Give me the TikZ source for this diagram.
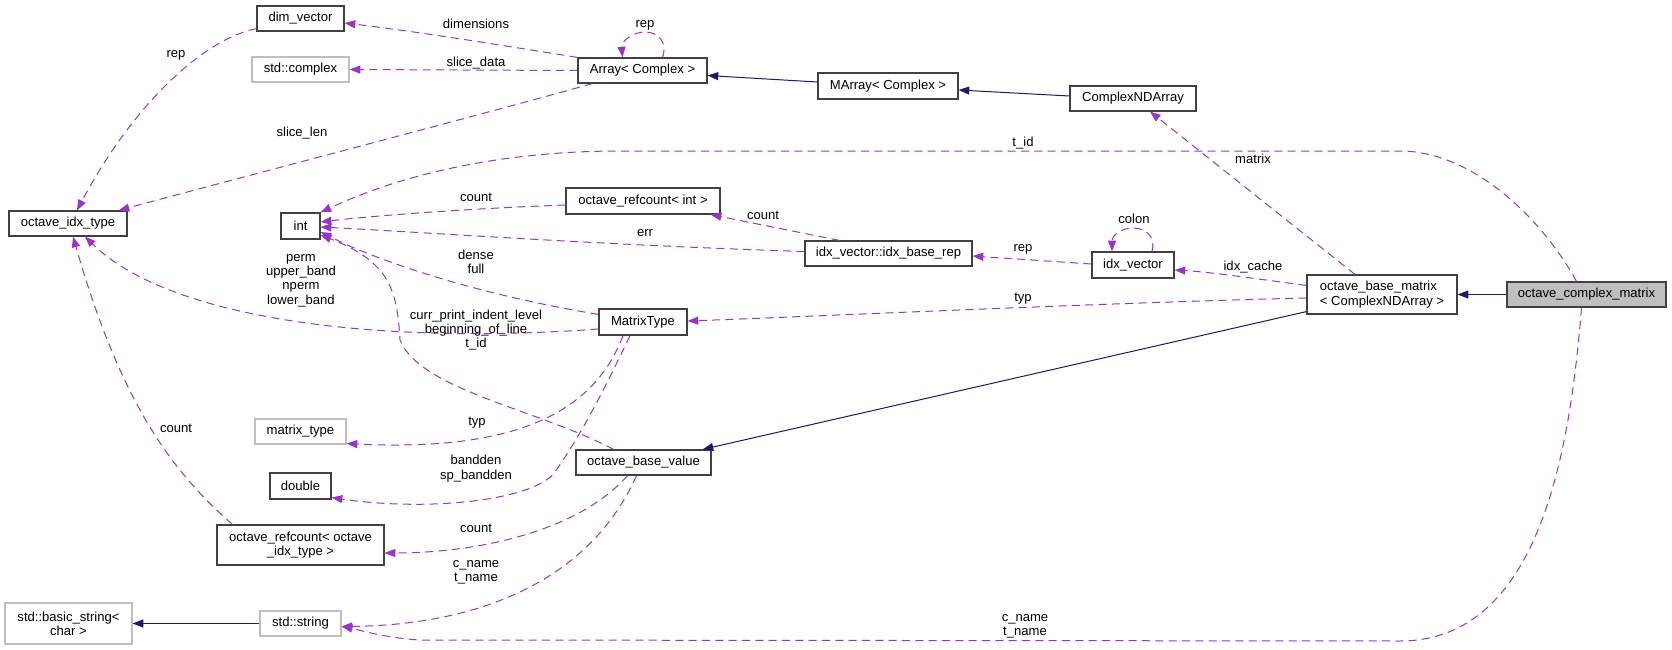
\documentclass[tikz,border=0pt]{standalone}
\usepackage{fontspec}
\setmainfont{Liberation Sans}
\usetikzlibrary{arrows.meta,calc}
\definecolor{purp}{HTML}{9A32CD}
\definecolor{navyc}{HTML}{191970}
\definecolor{boxc}{HTML}{404040}
\definecolor{grayc}{HTML}{BFBFBF}
\begin{document}
\begin{tikzpicture}[x=0.75pt,y=-0.75pt,
  font=\fontsize{9.8}{10.7}\selectfont,
  sz/.style 2 args={minimum width=#1*0.75pt, minimum height=#2*0.75pt},
  box/.style={draw=boxc, line width=0.9pt, fill=white, inner sep=0pt, align=center},
  gbox/.style={box, draw=grayc},
  uses/.style={draw=purp, line width=0.75pt, dash pattern=on 6pt off 4pt, -{Triangle[length=8pt,width=6pt]}},
  inh/.style={draw=navyc, line width=0.75pt, -{Triangle[length=8pt,width=6pt]}},
  lab/.style={inner sep=0pt, align=center, text=black}
]
\useasboundingbox (0,0) rectangle (1672,650);

% nodes
\node[box, sz={87}{25}] (dimv) at (300.5,18.5) {dim\_vector};
\node[gbox, sz={97}{25}] (stdc) at (300.5,69.5) {std::complex};
\node[box, sz={129}{25}] (arr) at (642.5,70.5) {Array< Complex >};
\node[box, sz={140}{26}] (marr) at (888,86) {MArray< Complex >};
\node[box, sz={126}{25}] (cnd) at (1133,98.5) {ComplexNDArray};
\node[box, sz={118}{25}] (oit) at (68,223.5) {octave\_idx\_type};
\node[box, sz={39}{26}] (int) at (300.5,226) {int};
\node[box, sz={154}{26}] (rci) at (643,201) {octave\_refcount< int >};
\node[box, sz={167}{25}] (ibr) at (888.5,253.5) {idx\_vector::idx\_base\_rep};
\node[box, sz={82}{26}] (iv) at (1133,265) {idx\_vector};
\node[box, sz={150}{39}, align=left] (obm) at (1382,294.5) {octave\_base\_matrix\\< ComplexNDArray >};
\node[box, sz={159}{25}, fill=grayc] (ocm) at (1586.5,294.5) {octave\_complex\_matrix};
\node[box, sz={88}{26}] (mt) at (643,322) {MatrixType};
\node[gbox, sz={91}{25}] (mtt) at (300.5,431.5) {matrix\_type};
\node[box, sz={135}{25}] (obv) at (643.5,462.5) {octave\_base\_value};
\node[box, sz={61}{26}] (dbl) at (300.5,486) {double};
\node[box, sz={167}{40}] (rco) at (300.5,545) {octave\_refcount< octave\\\_idx\_type >};
\node[gbox, sz={127}{41}] (bstr) at (68.5,623.5) {std::basic\_string<\\char >};
\node[gbox, sz={81}{25}] (str) at (300.5,623.5) {std::string};

% inheritance
\draw[inh] ($(marr.west)+(0,-4)$) -- ($(arr.east)+(0,5)$);
\draw[inh] ($(cnd.west)+(0,-2.5)$) -- ($(marr.east)+(0,4)$);
\draw[inh] (ocm.west) -- (obm.east);
\draw[inh] ($(obm.south west)+(0,-3)$) -- ($(obv.north east)+(-9,0)$);
\draw[inh] (str.west) -- (bstr.east);

% usage edges
\draw[uses] (arr.north west) .. controls (500,45) and (420,32) .. ($(dimv.east)+(0,4.5)$);
\node[lab] (l1) at (476,24) {dimensions};
\draw[uses] (arr.west) -- (stdc.east);
\node[lab] (l2) at (476,63) {slice\_data};
\draw[uses] ($(arr.north)+(20,0)$) .. controls (668,42) and (658,32) .. (645,32) .. controls (632,32) and (621,42) .. ($(arr.north)+(-20,0)$);
\node[lab] (l3) at (645,25) {rep};
\draw[uses] ($(arr.south west)+(15,0)$) .. controls (480,115) and (250,175) .. ($(oit.north east)+(-9,0)$);
\node[lab] (l4) at (302,133) {slice\_len};
\draw[uses] ($(dimv.south west)+(0,-3)$) .. controls (200,40) and (130,110) .. ($(oit.north)+(9,0)$);
\node[lab] (l5) at (176,55) {rep};

\draw[uses] ($(obm.north)+(-27,0)$) -- ($(cnd.south)+(17,0)$);
\node[lab] (l6) at (1253,159) {matrix};

\draw[uses] ($(ocm.north)+(-10,0)$) .. controls (1540,215) and (1470,151) .. (1400,151) -- (620,151) .. controls (500,151) and (400,175) .. (int.north east);
\node[lab] (l7) at (1023,143) {t\_id};

\draw[uses] ($(ocm.south)+(-5,0)$) .. controls (1570,450) and (1540,641) .. (1400,641) -- (420,640) .. controls (385,638) and (360,630) .. ($(str.east)+(0,3)$);
\node[lab] (l8) at (1025,626) {c\_name\\t\_name};

\draw[uses] ($(rci.west)+(0,4)$) .. controls (480,208) and (380,215) .. ($(int.east)+(0,-4)$);
\node[lab] (l9) at (476,197) {count};
\draw[uses] ($(ibr.north west)+(35,0)$) -- ($(rci.south east)+(-10,0)$);
\node[lab] (l10) at (763,215) {count};
\draw[uses] ($(ibr.west)+(0,-2)$) .. controls (600,245) and (420,232) .. ($(int.east)+(0,1)$);
\node[lab] (l11) at (645,233) {err};
\draw[uses] ($(iv.west)+(0,-1)$) -- ($(ibr.east)+(0,2.5)$);
\node[lab] (l12) at (1023,249) {rep};
\draw[uses] ($(iv.north)+(19,0)$) .. controls (1156,236) and (1145,228) .. (1133,228) .. controls (1120,228) and (1112,236) .. ($(iv.north)+(-21,0)$);
\node[lab] (l13) at (1134,219) {colon};
\draw[uses] ($(obm.north west)+(0,11)$) .. controls (1250,278) and (1210,272) .. ($(iv.east)+(0,5)$);
\node[lab] (l14) at (1253,267) {idx\_cache};
\draw[uses] ($(obm.west)+(0,3.5)$) .. controls (1100,303) and (850,315) .. ($(mt.east)+(0,-1)$);
\node[lab] (l15) at (1023,299) {typ};

\draw[uses] ($(mt.north west)+(0,6)$) .. controls (480,295) and (380,262) .. ($(int.east)+(0,6)$);
\node[lab] (l16) at (476,262) {dense\\full};
\draw[uses] ($(mt.west)+(0,7)$) .. controls (380,345) and (170,320) .. ($(oit.south)+(17,0)$);
\node[lab] (l17) at (301,280.5) {perm\\upper\_band\\nperm\\lower\_band};
\draw[uses] ($(mt.south)+(-20,0)$) .. controls (595,410) and (520,452) .. ($(mtt.south east)+(0,-1)$);
\node[lab] (l18) at (477,423) {typ};
\draw[uses] ($(mt.south)+(-13,0)$) .. controls (590,420) and (570,450) .. (555,472) .. controls (535,500) and (430,512) .. ($(dbl.south east)+(0,-2)$);
\node[lab] (l19) at (476,468.5) {bandden\\sp\_bandden};

\draw[uses] ($(obv.north)+(-30,0)$) .. controls (540,410) and (420,390) .. (400,340) .. controls (397,290) and (390,262) .. ($(int.east)+(0,9)$);
\node[lab] (l20) at (476,330) {curr\_print\_indent\_level\\beginning\_of\_line\\t\_id};
\draw[uses] ($(obv.south)+(-16,0)$) .. controls (580,530) and (480,553) .. ($(rco.east)+(0,8)$);
\node[lab] (l21) at (476,528) {count};
\draw[uses] ($(obv.south)+(-7,0)$) .. controls (590,580) and (480,625) .. ($(str.east)+(0,3)$);
\node[lab] (l22) at (476,572.5) {c\_name\\t\_name};
\draw[uses] ($(rco.north west)+(16,0)$) .. controls (170,470) and (120,400) .. ($(oit.south)+(5,0)$);
\node[lab] (l23) at (176,428) {count};
\end{tikzpicture}
\end{document}
